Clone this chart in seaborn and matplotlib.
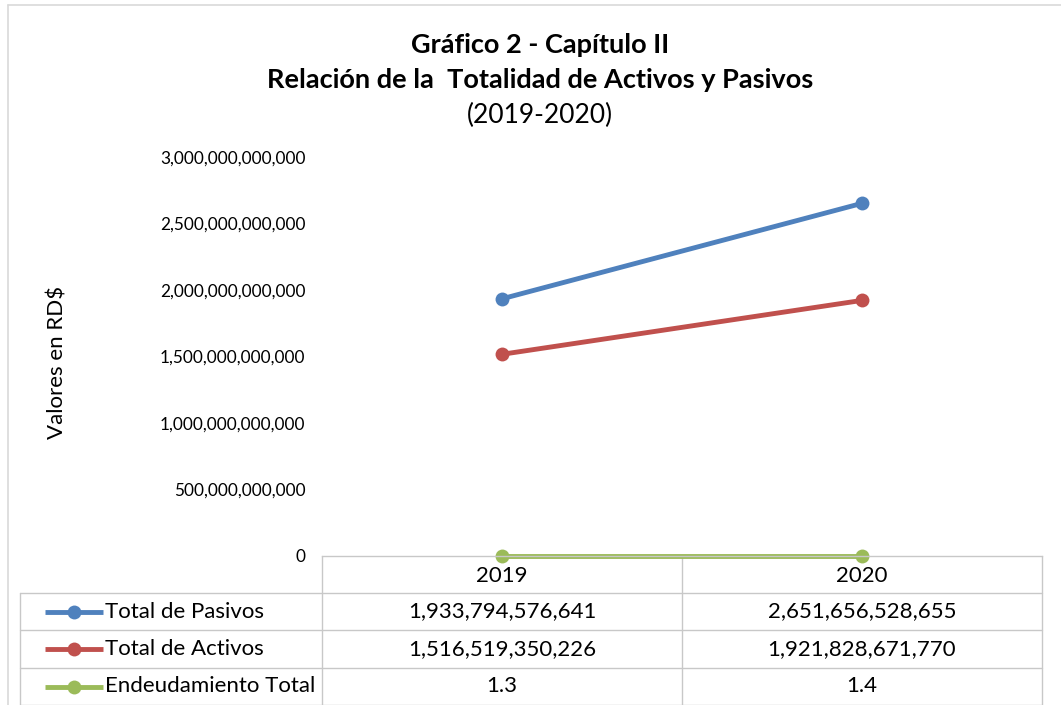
import matplotlib
matplotlib.use('Agg')
import matplotlib.pyplot as plt
import seaborn as sns
import pandas as pd
from matplotlib.ticker import FuncFormatter

# Datos del gráfico
anios = ['2019', '2020']
series = ['Total de Pasivos', 'Total de Activos', 'Endeudamiento Total']
pasivos = [1933794576641, 2651656528655]
activos = [1516519350226, 1921828671770]
endeudamiento = [1.3, 1.4]
colores = ['#4F81BD', '#C0504D', '#9BBB59']

valores = [pasivos, activos, endeudamiento]
rows = []
for s, vals in zip(series, valores):
    for i, v in enumerate(vals):
        rows.append({'pos': i, 'anio': anios[i], 'serie': s, 'valor': v})
df = pd.DataFrame(rows)

sns.set_theme(style="white")
plt.rcParams['font.family'] = ['Lato', 'DejaVu Sans']
TXT = '#000000'
GRID = '#C8C8C8'

W, H = 1061, 705
fig = plt.figure(figsize=(W / 100, H / 100), dpi=100)
fig.patch.set_facecolor('white')

# area del grafico en pixeles
L, R, T, B = 322, 1042, 157, 556
ax = fig.add_axes([L / W, 1 - B / H, (R - L) / W, (B - T) / H])
sns.lineplot(data=df, x='pos', y='valor', hue='serie', hue_order=series,
             palette=colores, marker='o', markersize=10, markeredgewidth=0,
             linewidth=3.5, legend=False, ax=ax)
ax.set_xlim(-0.5, 1.5)
ax.set_ylim(0, 3e12)
ax.set_yticks([i * 5e11 for i in range(7)])
ax.yaxis.set_major_formatter(FuncFormatter(lambda v, p: f'{v:,.0f}'))
ax.set_xticks([])
ax.set_xlabel('')
ax.set_ylabel('')
ax.tick_params(axis='y', length=0, pad=12, labelsize=12.4, labelcolor=TXT)
for side in ['top', 'right', 'left']:
    ax.spines[side].set_visible(False)
ax.spines['bottom'].set_color(GRID)
ax.spines['bottom'].set_linewidth(1)
for ln in ax.lines:
    ln.set_clip_on(False)
ax.set_facecolor('none')

# capa de superposicion en pixeles para titulo y tabla
ov = fig.add_axes([0, 0, 1, 1], zorder=-1)
ov.set_xlim(0, W)
ov.set_ylim(H, 0)
ov.axis('off')

# marco exterior
ov.plot([8, 8], [5, H], color='#D9D9D9', lw=1.2)
ov.plot([8, W], [5, 5], color='#D9D9D9', lw=1.2)

cx = 540
ov.text(cx, 45, 'Gráfico 2 - Capítulo II', ha='center', va='center',
        fontsize=19.5, fontweight='bold', color=TXT)
ov.text(cx, 80, 'Relación de la  Totalidad de Activos y Pasivos', ha='center',
        va='center', fontsize=19.5, fontweight='bold', color=TXT)
ov.text(cx, 115, '(' + anios[0] + '-' + anios[-1] + ')', ha='center',
        va='center', fontsize=19, color=TXT)

ov.text(57, 362, 'Valores en RD$', ha='center', va='center', rotation=90,
        fontsize=16, color=TXT)

# tabla de datos
row_y = [556, 593, 630, 668, 705]
col_x = [20, 322, 682, 1042]
for y in row_y[1:]:
    ov.plot([col_x[0], col_x[-1]], [y, y], color=GRID, lw=1)
for x in col_x[1:]:
    ov.plot([x, x], [row_y[0], row_y[-1]], color=GRID, lw=1)
ov.plot([col_x[0], col_x[0]], [row_y[1], row_y[-1]], color=GRID, lw=1)

centros = [(col_x[i] + col_x[i + 1]) / 2 for i in range(1, 3)]
for i, a in enumerate(anios):
    ov.text(centros[i], (row_y[0] + row_y[1]) / 2 + 2, a, ha='center',
            va='center', fontsize=16, color=TXT)

def fmt(v):
    return f'{v:,.1f}' if v < 100 else f'{v:,.0f}'

for r, (s, vals, c) in enumerate(zip(series, valores, colores)):
    yc = (row_y[r + 1] + row_y[r + 2]) / 2
    ov.plot([45, 103], [yc, yc], color=c, lw=3.5, solid_capstyle='butt')
    ov.plot([74], [yc], marker='o', color=c, markersize=10, markeredgewidth=0)
    ov.text(105, yc, s, ha='left', va='center', fontsize=16, color=TXT)
    for i, v in enumerate(vals):
        ov.text(centros[i], yc, fmt(v), ha='center', va='center',
                fontsize=16, color=TXT)

fig.savefig('out.png', dpi=100)
